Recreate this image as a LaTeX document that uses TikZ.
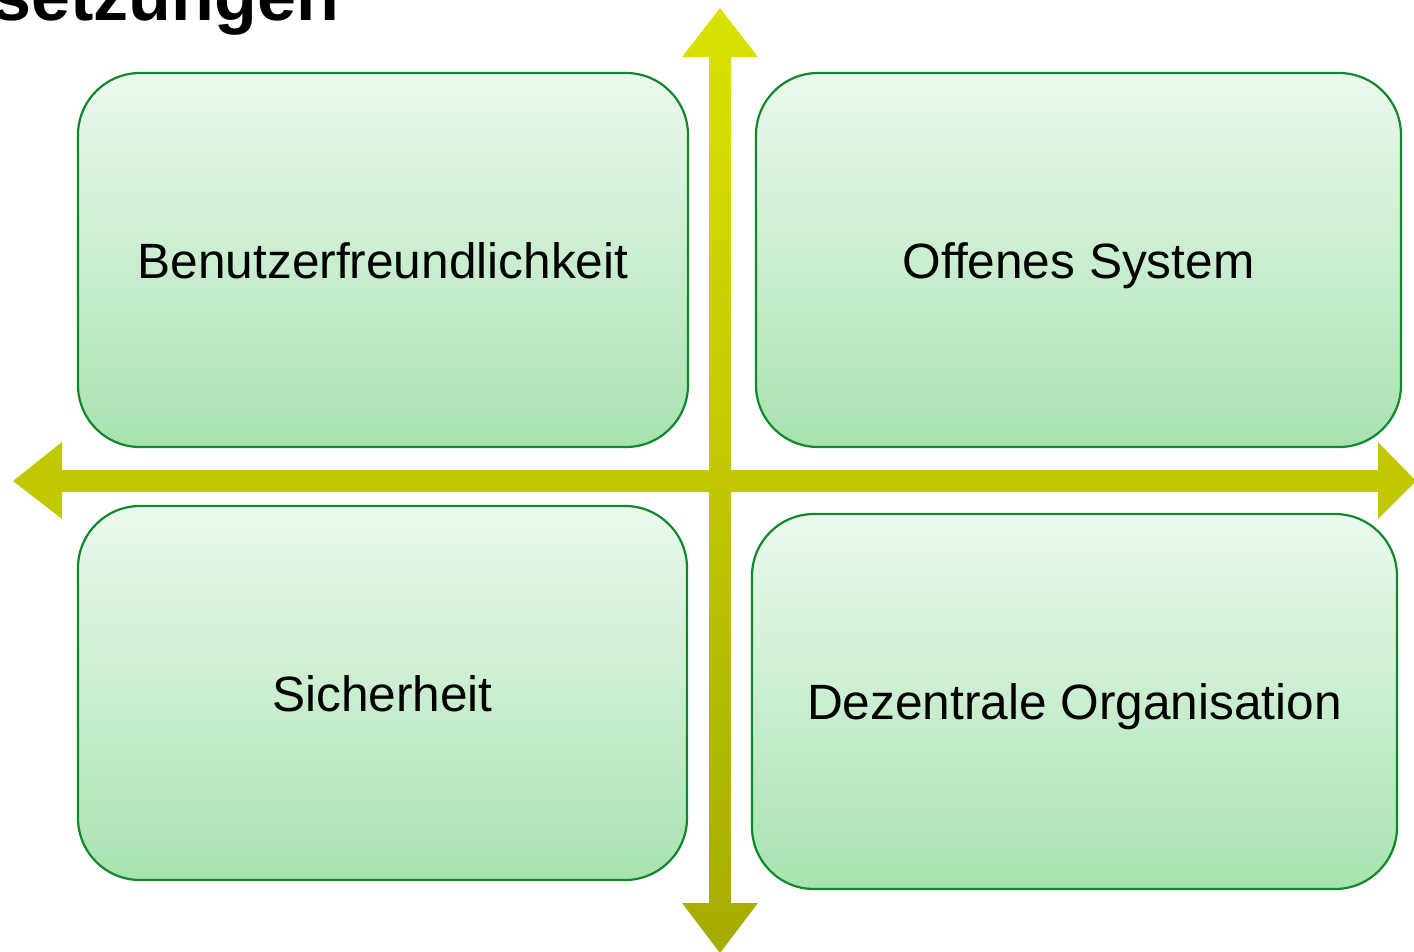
\documentclass[tikz,border=0pt]{standalone}
\usepackage{fontspec}
\setmainfont{Liberation Sans}
\definecolor{boxtop}{RGB}{236,249,238}
\definecolor{boxbot}{RGB}{168,226,176}
\definecolor{boxline}{RGB}{16,136,44}
\definecolor{arrtop}{RGB}{218,226,0}
\definecolor{arrbot}{RGB}{166,172,0}
\definecolor{arrmid}{RGB}{194,200,0}
\begin{document}
\begin{tikzpicture}[x=1pt,y=-1pt, line join=round,
	quadrant/.style={draw=boxline, line width=2.2pt, rounded corners=62pt, top color=boxtop, bottom color=boxbot,
		font=\fontsize{49.6}{58}\selectfont, inner sep=0pt, text height=36pt, text depth=0pt}]
	\def\W{1414} \def\H{951} % Bildgroesse
	\useasboundingbox (0,0) rectangle (\W,\H);
	\clip (0,0) rectangle (\W,\H);
	% Titel (oben abgeschnitten)
	\node[anchor=base east, font=\fontsize{70}{80}\selectfont\bfseries, inner sep=0pt] (titel) at (339,20) {setzungen};
	% Quadranten
	\node[quadrant, minimum width=610pt, minimum height=374pt] (benutzer) at (383,260) {Benutzerfreundlichkeit};
	\node[quadrant, minimum width=645pt, minimum height=374pt] (offen) at (1078.5,260) {Offenes System};
	\node[quadrant, minimum width=609pt, minimum height=374pt] (sicher) at (382.5,693) {Sicherheit};
	\node[quadrant, minimum width=645pt, minimum height=375pt] (dezentral) at (1074.5,701.5) {Dezentrale Organisation};
	% Achsen
	\fill[arrmid] (13,481) -- (62,442) -- (62,470) -- (1378,470) -- (1378,442) -- (1416,481)
		-- (1378,519) -- (1378,492) -- (62,492) -- (62,519) -- cycle;
	\shade[top color=arrtop, bottom color=arrbot] (720,8) -- (758,57) -- (731,57) -- (731,903) -- (758,903) -- (720,953)
		-- (682,903) -- (709,903) -- (709,57) -- (682,57) -- cycle;
\end{tikzpicture}
\end{document}
